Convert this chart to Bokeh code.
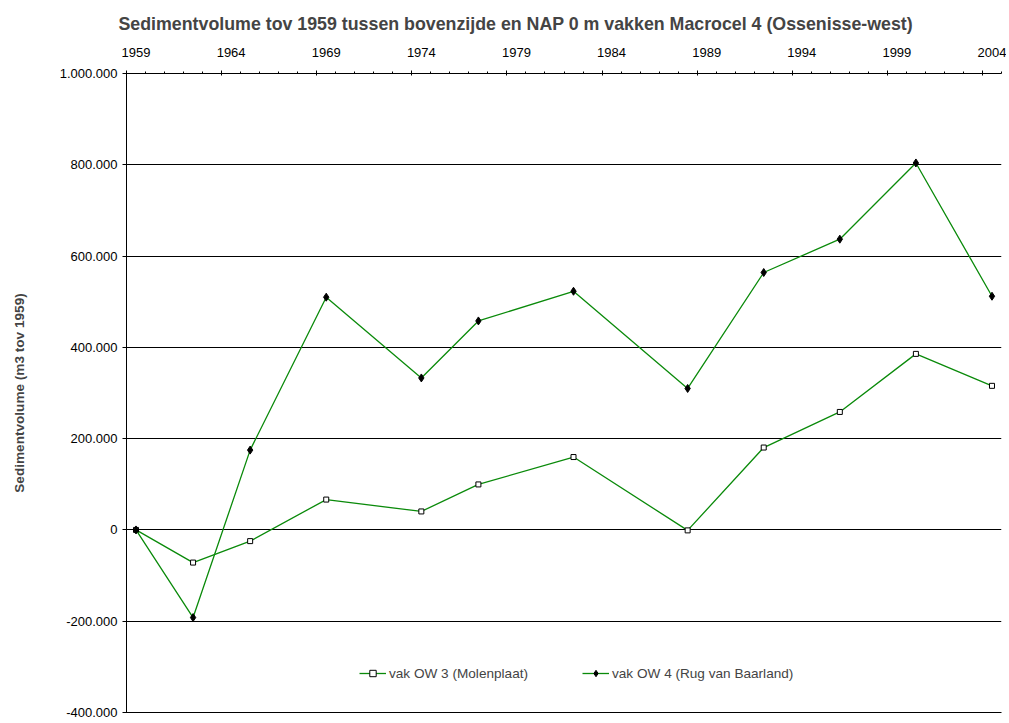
from bokeh.plotting import figure
from bokeh.models import Range1d, LinearAxis, FixedTicker, Legend, LegendItem, CustomLabelingPolicy
from bokeh.embed import file_html
from bokeh.resources import INLINE

# ---- data ----
years = [1959, 1962, 1965, 1969, 1974, 1977, 1982, 1988, 1992, 1996, 2000, 2004]
ow3 = [0, -71500, -24500, 66500, 40500, 99700, 159700, -1000, 180500, 258500, 385700, 315700]
ow4 = [0, -192000, 174900, 509900, 333000, 457900, 522900, 309900, 564000, 637000, 804000, 512000]
ow3_name = "vak OW 3 (Molenplaat)"
ow4_name = "vak OW 4 (Rug van Baarland)"
year_labels = [1959, 1964, 1969, 1974, 1979, 1984, 1989, 1994, 1999, 2004]
y_ticks = [-400000, -200000, 0, 200000, 400000, 600000, 800000, 1000000]
y_tick_labels = ["-400.000", "-200.000", "0", "200.000", "400.000", "600.000", "800.000", "1.000.000"]
title_text = "Sedimentvolume tov 1959 tussen bovenzijde en NAP 0 m vakken  Macrocel 4 (Ossenisse-west)"
y_title = "Sedimentvolume (m3 tov 1959)"

FONT = "Liberation Sans"
GREEN = "#0a8a0a"

p = figure(width=1006, height=722, output_backend="svg", toolbar_location=None,
           x_range=Range1d(1958.5, 2004.5), y_range=Range1d(-400000, 1000000),
           x_axis_location=None, y_axis_location="left",
           min_border_left=126, min_border_right=5, min_border_top=72, min_border_bottom=10)
p.outline_line_color = None
p.background_fill_color = "white"
p.border_fill_color = "white"

# title
p.title.text = title_text
p.title.text_font = FONT
p.title.text_font_size = "17.8px"
p.title.text_font_style = "bold"
p.title.align = "left"
p.title.offset = -8
p.title.standoff = 22

hide_labels = CustomLabelingPolicy(code="""
    const n = indices.size
    for (let i = 0; i < n; i++) { indices.unset(i) }
    return indices
""")

# top axis: tick marks at year boundaries
tick_axis = LinearAxis(
    ticker=FixedTicker(ticks=[y - 0.5 for y in year_labels],
                       minor_ticks=[1958.5 + i for i in range(47)]),
    major_label_policy=hide_labels, major_label_standoff=0,
    major_label_text_font_size="1px",
    major_tick_in=2, major_tick_out=3, minor_tick_in=0, minor_tick_out=2,
    axis_line_color="black", major_tick_line_color="black", minor_tick_line_color="black")
p.add_layout(tick_axis, "above")

# top axis labels centered on the years
lab_axis = LinearAxis(
    ticker=FixedTicker(ticks=year_labels, minor_ticks=[]),
    axis_line_color=None, major_tick_line_color=None, minor_tick_line_color=None,
    major_tick_in=0, major_tick_out=0, minor_tick_in=0, minor_tick_out=0,
    major_label_standoff=10, major_label_text_font=FONT, major_label_text_font_size="13px",
    major_label_text_color="black")
p.add_layout(lab_axis, "above")

# bottom line
bot_axis = LinearAxis(ticker=FixedTicker(ticks=[], minor_ticks=[]),
                      major_tick_out=0, major_tick_in=0,
                      minor_tick_out=0, minor_tick_in=0, axis_line_color="black",
                      major_label_standoff=0)
p.add_layout(bot_axis, "below")

# left axis
ya = p.yaxis[0]
ya.ticker = FixedTicker(ticks=y_ticks, minor_ticks=[])
ya.major_label_overrides = dict(zip(y_ticks, y_tick_labels))
ya.major_label_text_font = FONT
ya.major_label_text_font_size = "13px"
ya.major_label_text_color = "black"
ya.major_tick_in = 4
ya.major_tick_out = 4
ya.minor_tick_line_color = None
ya.axis_line_color = "black"
ya.major_tick_line_color = "black"
ya.axis_label = y_title
ya.axis_label_text_font = FONT
ya.axis_label_text_font_size = "13.6px"
ya.axis_label_text_font_style = "bold"
ya.axis_label_standoff = 30
ya.major_label_standoff = 5

p.ygrid.ticker = FixedTicker(ticks=y_ticks)
p.ygrid.grid_line_color = "black"
p.ygrid.grid_line_width = 1
p.xgrid.visible = False

# series
l3 = p.line(years, ow3, line_color=GREEN, line_width=1.3)
m3 = p.scatter(years, ow3, marker="square", size=5, fill_color="white",
               line_color="black", line_width=1)
l4 = p.line(years, ow4, line_color=GREEN, line_width=1.3)
m4 = p.scatter(years, ow4, marker="diamond", size=8, fill_color="black",
               line_color="black", line_width=1)

legend = Legend(items=[LegendItem(label=ow3_name, renderers=[l3, m3]),
                       LegendItem(label=ow4_name, renderers=[l4, m4])],
                orientation="horizontal", location=(233, 31),
                padding=0, margin=0, spacing=54, label_standoff=3,
                glyph_width=27, glyph_height=16,
                label_text_font=FONT, label_text_font_size="13.6px",
                border_line_color=None, background_fill_alpha=0)
p.add_layout(legend, "center")

open("out.html", "w").write(file_html(p, INLINE))
